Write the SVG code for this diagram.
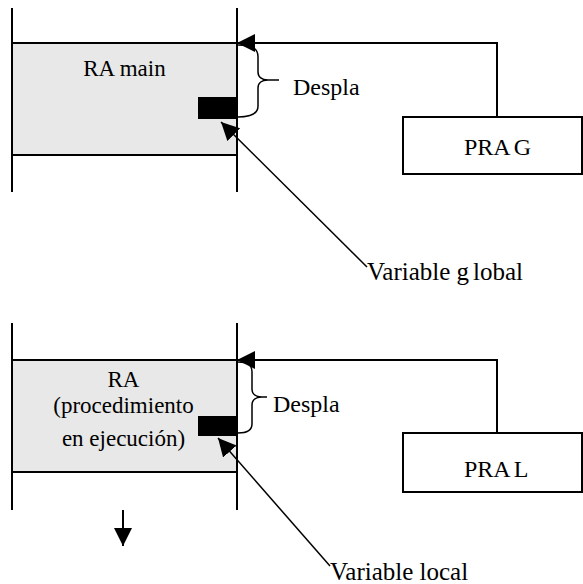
<svg xmlns="http://www.w3.org/2000/svg" width="583" height="584" viewBox="0 0 583 584">
<style>
  .ln{stroke:#000;stroke-width:2;fill:none}
  .thin{stroke:#000;stroke-width:1.5;fill:none}
  .ra{fill:#e8e8e8;stroke:#000;stroke-width:2}
  .box{fill:#fff;stroke:#000;stroke-width:2}
  .blk{fill:#000}
  text{fill:#000}
  .t{font-size:24px}
  .tb{font-size:23px}
  .tv{font-size:25px}
</style>
<defs>
  <marker id="ah" markerWidth="18" markerHeight="18" refX="18" refY="9" orient="auto" markerUnits="userSpaceOnUse">
    <path d="M0,0 L18,9 L0,18 Z" fill="#000"/>
  </marker>
</defs>

<g font-family="'Liberation Serif', 'Times New Roman', 'DejaVu Serif', serif">
<g id="stack-top">
  <line class="ln" x1="12" y1="8" x2="12" y2="192"/>
  <line class="ln" x1="237" y1="8" x2="237" y2="192"/>
  <rect class="ra" x="12" y="43" width="225" height="112"/>
  <text class="tb" x="124.5" y="76" text-anchor="middle">RA main</text>
  <rect class="blk" x="198" y="97" width="39" height="22"/>
</g>

<g id="brace-top">
  <path class="thin" d="M238,45 C252,45 258,48 258,57 L258,72 C258,77 262,80 268,80 C262,80 258,83 258,88 L258,106 C258,113 252,117 238,117 M268,80 L279,80"/>
  <text class="t" x="293" y="95">Despla</text>
</g>

<g id="prag">
  <rect class="box" x="403" y="117" width="179" height="57"/>
  <text class="t" x="464" y="155">PRA<tspan dx="3">G</tspan></text>
</g>

<g id="label-global">
  <text class="tv" x="367" y="280">Variable g<tspan dx="4">lobal</tspan></text>
</g>

<g id="stack-bottom">
  <line class="ln" x1="12" y1="323" x2="12" y2="510"/>
  <line class="ln" x1="237" y1="323" x2="237" y2="510"/>
  <rect class="ra" x="12" y="360" width="225" height="112"/>
  <text class="tb" x="123.5" y="387" text-anchor="middle">RA</text>
  <text class="tb" x="123.5" y="413" text-anchor="middle">(procedimiento</text>
  <text class="tb" x="123.5" y="446" text-anchor="middle">en ejecución)</text>
  <rect class="blk" x="198" y="416" width="39" height="20"/>
</g>

<g id="brace-bottom">
  <path class="thin" d="M238,362 C248,362 252,365 252,372 L252,389 C252,394 256,397 262,397 C256,397 252,400 252,405 L252,424 C252,430 248,433 238,433 M262,397 L267,397"/>
  <text class="t" x="273" y="412">Despla</text>
</g>

<g id="pral">
  <rect class="box" x="403" y="433" width="179" height="59"/>
  <text class="t" x="464" y="477">PRA<tspan dx="3">L</tspan></text>
</g>

<g id="label-local">
  <text class="tv" x="330" y="580">Variable local</text>
</g>
</g>

<g id="connectors">
  <polyline class="ln" points="497,117 497,43 237,43" marker-end="url(#ah)"/>
  <line class="thin" x1="367" y1="267" x2="221" y2="122" marker-end="url(#ah)"/>
  <polyline class="ln" points="497,433 497,360 237,360" marker-end="url(#ah)"/>
  <line class="thin" x1="330" y1="566" x2="218" y2="438" marker-end="url(#ah)"/>
  <line class="ln" x1="123" y1="510" x2="123" y2="546" marker-end="url(#ah)"/>
</g>
</svg>
